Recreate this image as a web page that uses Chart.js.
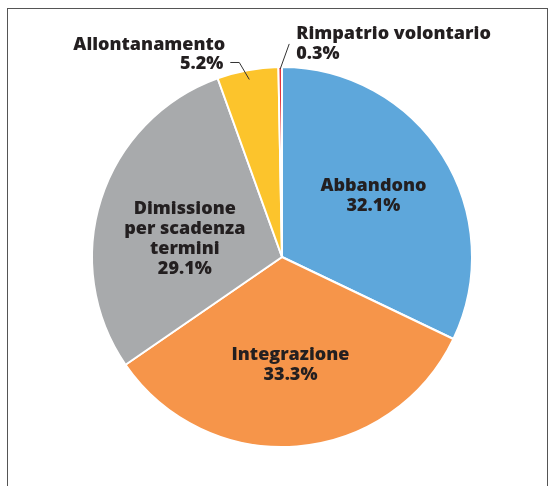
<!DOCTYPE html>
<html>
<head>
<meta charset="utf-8">
<script src="https://cdn.jsdelivr.net/npm/chart.js@4/dist/chart.umd.min.js"></script>
<style>
  html, body { margin: 0; padding: 0; background: #fff; overflow: hidden; }
  #wrap { position: relative; width: 549px; height: 486px; }
  #frame { position: absolute; left: 7px; top: 8px; width: 541px; height: 500px;
           border: 1.5px solid #555; box-sizing: border-box; }
  canvas { position: absolute; left: 0; top: 0; }
</style>
</head>
<body>
<div id="wrap">
  <div id="frame"></div>
  <canvas id="pie" width="549" height="486"></canvas>
</div>
<script>
// values (percent)
const categories = ["Abbandono", "Integrazione", "Dimissione per scadenza termini", "Allontanamento", "Rimpatrio volontario"];
const values = [32.1, 33.3, 29.1, 5.2, 0.3];
const colors = ["#5ea7db", "#f6954a", "#a8aaac", "#fcc42c", "#e2333c"];

// how each label is printed (lines of text)
const labelLines = [
  ["Abbandono"],
  ["Integrazione"],
  ["Dimissione", "per scadenza", "termini"],
  ["Allontanamento"],
  ["Rimpatrio volontario"]
];

const FONT = "800 18px 'Open Sans', sans-serif";
const INK = "#231f20";

function pct(v) { return v.toFixed(1) + "%"; }

const labelPlugin = {
  id: "sliceLabels",
  afterDatasetsDraw(chart) {
    const ctx = chart.ctx;
    const arcs = chart.getDatasetMeta(0).data;
    ctx.save();
    ctx.font = FONT;
    ctx.fillStyle = INK;
    ctx.textBaseline = "middle";
    const lh = 20;

    // inner labels
    const inner = { 0: 0.58, 1: 0.57, 2: 0.52 };
    const innerRot = { 0: -0.03, 1: 0, 2: -0.13 };
    Object.keys(inner).forEach(k => {
      const i = +k, a = arcs[i];
      const mid = (a.startAngle + a.endAngle) / 2 + innerRot[i];
      const r = a.outerRadius * inner[i];
      const cx = a.x + Math.cos(mid) * r;
      const cy = a.y + Math.sin(mid) * r;
      const lines = labelLines[i].concat([pct(values[i])]);
      const y0 = cy - (lines.length - 1) * lh / 2;
      ctx.textAlign = "center";
      lines.forEach((t, j) => ctx.fillText(t, cx, y0 + j * lh));
    });

    ctx.strokeStyle = "#333";
    ctx.lineWidth = 1;

    // Allontanamento, leader to the upper left
    {
      const a = arcs[3];
      const mid = (a.startAngle + a.endAngle) / 2;
      const px = a.x + Math.cos(mid) * a.outerRadius * 0.95;
      const py = a.y + Math.sin(mid) * a.outerRadius * 0.95;
      ctx.beginPath();
      ctx.moveTo(px, py);
      ctx.lineTo(px - 10, py - 17);
      ctx.lineTo(px - 19, py - 17);
      ctx.stroke();
      ctx.textAlign = "right";
      ctx.fillText(labelLines[3][0], px - 24, py - 35);
      ctx.fillText(pct(values[3]), px - 26, py - 16);
    }

    // Rimpatrio volontario, leader to the upper right
    {
      const a = arcs[4];
      const mid = (a.startAngle + a.endAngle) / 2;
      const px = a.x + Math.cos(mid) * a.outerRadius * 0.99;
      const py = a.y + Math.sin(mid) * a.outerRadius * 0.99;
      ctx.beginPath();
      ctx.moveTo(px, py);
      ctx.lineTo(px + 9, py - 25);
      ctx.stroke();
      ctx.textAlign = "left";
      ctx.fillText(labelLines[4][0], px + 16, py - 35);
      ctx.fillText(pct(values[4]), px + 16, py - 15);
    }
    ctx.restore();
  }
};

new Chart(document.getElementById("pie"), {
  type: "pie",
  data: {
    labels: categories,
    datasets: [{
      data: values,
      backgroundColor: colors,
      borderColor: "#ffffff",
      borderWidth: 2
    }]
  },
  options: {
    responsive: false,
    animation: false,
    layout: { padding: { left: 91, right: 76, top: 66, bottom: 38 } },
    plugins: {
      legend: { display: false },
      tooltip: { enabled: false }
    }
  },
  plugins: [labelPlugin]
});
</script>
</body>
</html>
